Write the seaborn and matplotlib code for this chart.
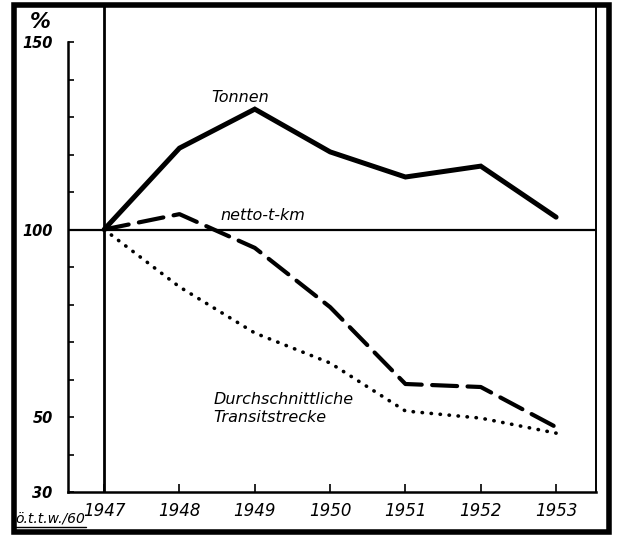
import pandas as pd
import matplotlib.pyplot as plt
import seaborn as sns
from matplotlib.patches import Rectangle
from matplotlib.lines import Line2D

# Werte (1947 = 100 %)
jahre = [1947, 1948, 1949, 1950, 1951, 1952, 1953]
tonnen = [100, 121.7, 132.1, 120.7, 114.0, 116.9, 103.3]
netto_tkm = [100, 104.1, 95.1, 79.3, 58.8, 58.0, 47.3]
transitstrecke = [100, 84.7, 72.4, 64.4, 51.6, 49.7, 45.7]
y_ticks = [30, 50, 100, 150]

df = pd.DataFrame({
    'Jahr': jahre * 3,
    'Wert': tonnen + netto_tkm + transitstrecke,
    'Reihe': ['Tonnen'] * 7 + ['netto-t-km'] * 7 + ['Transitstrecke'] * 7,
})

sns.set_style('white')
plt.rcParams['font.family'] = ['DejaVu Sans']
plt.rcParams['text.color'] = 'black'
plt.rcParams['xtick.color'] = 'black'
plt.rcParams['ytick.color'] = 'black'

fig = plt.figure(figsize=(6.18, 5.37), dpi=100)
ax = fig.add_axes([68 / 618, 45 / 537, 528 / 618, 487 / 537])

stile = {
    'Tonnen': dict(lw=3.6, ls='-'),
    'netto-t-km': dict(lw=3.0, ls=(0, (6, 2.5))),
    'Transitstrecke': dict(lw=2.6, ls=(0, (0.1, 2.4))),
}
for name, st in stile.items():
    sns.lineplot(data=df[df['Reihe'] == name], x='Jahr', y='Wert', ax=ax,
                 color='black', linewidth=st['lw'], linestyle=st['ls'],
                 dash_capstyle='round', solid_joinstyle='miter', legend=False)

ax.set_xlim(1946.52, 1953.53)
ax.set_ylim(30, 159.87)
ax.axhline(100, color='black', lw=1.6)
ax.axvline(1947, color='black', lw=2.0)

ax.spines['top'].set_visible(False)
ax.spines['left'].set_bounds(30, 150)
for s in ['left', 'bottom', 'right']:
    ax.spines[s].set_color('black')
    ax.spines[s].set_linewidth(1.8)
ax.spines['right'].set_linewidth(1.4)

ax.set_xticks(jahre)
ax.set_xticklabels([str(j) for j in jahre], fontstyle='italic', fontsize=12,
                   color='black')
ax.set_yticks(y_ticks)
ax.set_yticklabels([str(v) for v in y_ticks], fontstyle='italic',
                   fontweight='bold', fontsize=10.5, color='black')
ax.set_yticks(range(30, 151, 10), minor=True)
ax.tick_params(axis='y', which='both', direction='in', length=4, width=1.2,
               left=True, pad=11)
ax.tick_params(axis='x', direction='in', length=6, width=1.2, bottom=True, pad=7)
ax.set_xlabel('')
ax.set_ylabel('')

# Beschriftungen der Linien
ax.text(1948.8, 135.2, 'Tonnen', fontstyle='italic', fontsize=11.5,
        ha='center', va='center', color='black')
ax.text(1949.11, 103.8, 'netto-t-km', fontstyle='italic', fontsize=11.5,
        ha='center', va='center', color='black')
ax.text(1948.45, 52.3, 'Durchschnittliche\nTransitstrecke', fontstyle='italic',
        fontsize=11.5, ha='left', va='center', linespacing=1.3, color='black')

fig.text(40 / 618, 1 - 22 / 537, '%', fontsize=15, fontstyle='italic',
         fontweight='bold', ha='center', va='center')
fig.text(15 / 618, 1 - 518 / 537, 'ö.t.t.w./60', fontsize=10, fontstyle='italic',
         ha='left', va='center')
fig.add_artist(Line2D([15 / 618, 86 / 618], [1 - 527 / 537, 1 - 527 / 537],
                      color='black', lw=1.0))

# dicker Rahmen
fig.add_artist(Rectangle((14 / 618, 5 / 537), 595 / 618, 527 / 537,
                         fill=False, edgecolor='black', lw=4.0,
                         transform=fig.transFigure))

fig.savefig('out.png', dpi=100)
